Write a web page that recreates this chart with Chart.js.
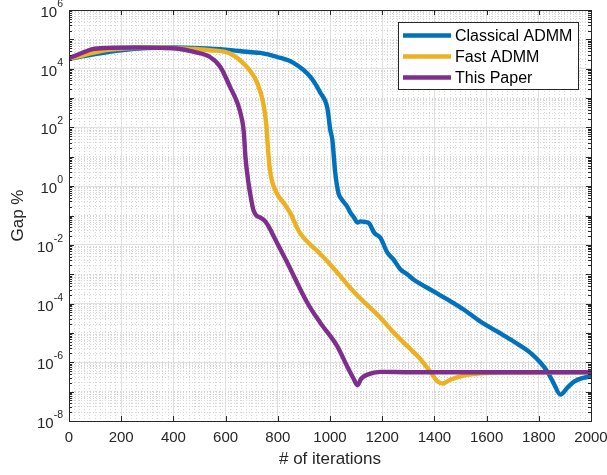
<!DOCTYPE html>
<html>
<head>
<meta charset="utf-8">
<script src="https://cdn.jsdelivr.net/npm/chart.js@4.4.1/dist/chart.umd.min.js"></script>
<style>
  html, body { margin: 0; padding: 0; background: #fff; }
  #gapChart { display: block; }
</style>
</head>
<body>
<canvas id="gapChart" width="607" height="475"></canvas>
<script>
// series names and colours (MATLAB default order)
const seriesNames = ['Classical ADMM', 'Fast ADMM', 'This Paper'];
const seriesColors = ['#0072BD', '#EDB120', '#7E2F8E'];

// Classical ADMM
const classicalIter = [0, 50, 100, 150, 200, 300, 400, 500, 600, 700, 733, 798, 860, 925, 963,
  990, 1001, 1009, 1020, 1032, 1045, 1066, 1078, 1090, 1105, 1117, 1135, 1150, 1169, 1193,
  1220, 1243, 1270, 1297, 1320, 1397, 1450, 1512, 1576, 1640, 1704, 1768, 1806, 1832, 1856,
  1883, 1910, 1935, 1974, 2000];
const classicalGap = [2.14e4, 2.63e4, 3.16e4, 3.72e4, 4.27e4, 5.01e4, 5.25e4, 5.0e4, 4.47e4, 3.63e4,
  3.47e4, 2.51e4, 1.58e4, 5.25e3, 1.51e3, 447, 83, 38, 2.9, 0.6,
  0.355, 0.2, 0.126, 0.091, 0.058, 0.063, 0.06, 0.054, 0.026, 0.0174,
  5.4e-3, 3.2e-3, 1.45e-3, 9.8e-4, 6.6e-4, 2.6e-4, 1.38e-4, 6.3e-5, 2.45e-5, 1.12e-5,
  5.1e-6, 2.1e-6, 9.8e-7, 4.9e-7, 2.0e-7, 7.9e-8, 1.38e-7, 2.2e-7, 3.0e-7, 3.3e-7];

// Fast ADMM
const fastIter = [0, 50, 100, 150, 220, 300, 400, 480, 540, 617, 682, 700, 721, 744, 756,
  763, 770, 780, 800, 825, 850, 870, 890, 950, 1000, 1092, 1193, 1243, 1297, 1347,
  1386, 1413, 1432, 1463, 1512, 1578, 1700, 2000];
const fastGap = [2.19e4, 2.82e4, 3.63e4, 4.37e4, 5.0e4, 5.25e4, 5.13e4, 4.68e4, 4.27e4, 3.31e4,
  1.15e4, 7.1e3, 3.3e3, 692, 126, 15.8, 3.5, 1.26, 0.5, 0.25,
  0.112, 0.045, 0.022, 6.3e-3, 2.2e-3, 2.5e-4, 3.3e-5, 1.05e-5, 3.5e-6, 1.26e-6,
  4.5e-7, 2.2e-7, 1.9e-7, 2.6e-7, 3.5e-7, 4.2e-7, 4.5e-7, 4.6e-7];

// This Paper
const paperIter = [0, 40, 90, 150, 250, 350, 420, 480, 540, 580, 617, 645, 663, 670, 676,
  687, 697, 706, 718, 733, 752, 770, 785, 836, 913, 963, 1028, 1066, 1090, 1105,
  1120, 1143, 1194, 1300, 2000];
const paperGap = [2.29e4, 3.16e4, 4.68e4, 5.13e4, 5.25e4, 5.13e4, 4.79e4, 3.72e4, 2.51e4, 1.15e4,
  2.4e3, 692, 182, 66, 10, 1.4, 0.4, 0.16, 0.1, 0.085,
  0.063, 0.035, 0.019, 2.5e-3, 1.07e-4, 2.2e-5, 3.5e-6, 7.2e-7, 2.8e-7, 1.66e-7,
  2.8e-7, 3.8e-7, 4.7e-7, 4.6e-7, 4.6e-7];

// axis ticks
const xTickLabels = [0, 200, 400, 600, 800, 1000, 1200, 1400, 1600, 1800, 2000];
const yTickExponents = [6, 4, 2, 0, -2, -4, -6, -8];

const INK = '#262626';
const MAJOR_GRID = '#e0e0e0';
const MINOR_GRID = '#d6d6d6';
const FONT = "'Liberation Sans', Arial, Helvetica, sans-serif";

Chart.defaults.font.family = FONT;
Chart.defaults.color = INK;

const toPoints = (xs, ys) => xs.map((x, i) => ({ x: x, y: ys[i] }));

// x grid every 20 iterations, labelled every 200
const xGridValues = [];
for (let v = 0; v <= 2000; v += 20) xGridValues.push(v);
const isMajorX = v => xTickLabels.includes(v);

// y grid at 1..9 x 10^n
const yGridValues = [];
for (let e = -8; e < 6; e++) {
  for (let k = 1; k <= 9; k++) yGridValues.push(Number((k + 'e' + e)));
}
yGridValues.push(1e6);
const isMajorY = v => yTickExponents.some(e => Math.abs(Math.log10(v) - e) < 1e-9);
const isDecade = v => Math.abs(Math.log10(v) - Math.round(Math.log10(v))) < 1e-9;

// box with inward ticks on all four sides
const axesBox = {
  id: 'axesBox',
  afterDraw(chart) {
    const { ctx, chartArea: a, scales } = chart;
    const xs = scales.x, ys = scales.y;
    ctx.save();
    ctx.strokeStyle = INK;
    ctx.lineWidth = 1;
    ctx.beginPath();
    xTickLabels.forEach(v => {
      const px = Math.round(xs.getPixelForValue(v)) + 0.5;
      ctx.moveTo(px, a.bottom); ctx.lineTo(px, a.bottom - 5);
      ctx.moveTo(px, a.top); ctx.lineTo(px, a.top + 5);
    });
    yGridValues.forEach(v => {
      const py = Math.round(ys.getPixelForValue(v)) + 0.5;
      const len = isDecade(v) ? 5 : 3;
      ctx.moveTo(a.left, py); ctx.lineTo(a.left + len, py);
      ctx.moveTo(a.right, py); ctx.lineTo(a.right - len, py);
    });
    ctx.stroke();
    ctx.strokeRect(Math.round(a.left) + 0.5, Math.round(a.top) + 0.5,
      Math.round(a.right - a.left), Math.round(a.bottom - a.top));

    // 10^n labels on the y axis
    ctx.fillStyle = INK;
    ctx.textAlign = 'right';
    ctx.textBaseline = 'alphabetic';
    yTickExponents.forEach(e => {
      const py = ys.getPixelForValue(Math.pow(10, e));
      const right = a.left - 6;
      ctx.font = '10.5px ' + FONT;
      const expText = String(e);
      ctx.fillText(expText, right, py - 3);
      const w = ctx.measureText(expText).width;
      ctx.font = '15px ' + FONT;
      ctx.fillText('10', right - w, py + 7);
    });
    ctx.restore();
  }
};

// legend box in the upper right corner of the axes
const cornerLegend = {
  id: 'cornerLegend',
  afterDraw(chart) {
    const { ctx } = chart;
    const box = { x: 398.5, y: 22.5, w: 180, h: 67 };
    ctx.save();
    ctx.fillStyle = '#fff';
    ctx.fillRect(box.x, box.y, box.w, box.h);
    ctx.strokeStyle = INK;
    ctx.lineWidth = 1;
    ctx.strokeRect(box.x, box.y, box.w, box.h);
    ctx.font = '16px ' + FONT;
    ctx.textAlign = 'left';
    ctx.textBaseline = 'middle';
    chart.data.datasets.forEach((ds, i) => {
      const y = 35.5 + i * 21;
      ctx.strokeStyle = ds.borderColor;
      ctx.lineWidth = ds.borderWidth;
      ctx.beginPath();
      ctx.moveTo(403, y);
      ctx.lineTo(451, y);
      ctx.stroke();
      ctx.fillStyle = '#000';
      ctx.fillText(ds.label, 455, y + 1);
    });
    ctx.restore();
  }
};

const lineSeries = [
  toPoints(classicalIter, classicalGap),
  toPoints(fastIter, fastGap),
  toPoints(paperIter, paperGap)
];

new Chart(document.getElementById('gapChart'), {
  type: 'line',
  data: {
    datasets: lineSeries.map((pts, i) => ({
      label: seriesNames[i],
      data: pts,
      borderColor: seriesColors[i],
      backgroundColor: seriesColors[i],
      borderWidth: 4.4,
      pointRadius: 0,
      cubicInterpolationMode: 'monotone',
      borderJoinStyle: 'round',
      borderCapStyle: 'round',
      order: 3 - i
    }))
  },
  options: {
    responsive: false,
    animation: false,
    devicePixelRatio: 1,
    layout: { padding: { top: 10, right: 16, left: 0, bottom: 0 } },
    plugins: { legend: { display: false }, tooltip: { enabled: false } },
    scales: {
      x: {
        type: 'linear',
        min: 0,
        max: 2000,
        afterBuildTicks: axis => { axis.ticks = xGridValues.map(v => ({ value: v })); },
        afterFit: axis => {
          axis.height = 54;
          axis.paddingLeft = 0;
          axis.paddingRight = 0;
        },
        ticks: {
          autoSkip: false,
          maxRotation: 0,
          padding: 8,
          font: { size: 15 },
          color: INK,
          callback: v => (isMajorX(v) ? String(v) : '')
        },
        grid: {
          drawTicks: false,
          lineWidth: 1,
          color: ctx => (ctx.tick && !isMajorX(ctx.tick.value) ? MINOR_GRID : MAJOR_GRID)
        },
        border: {
          display: false,
          dash: ctx => (ctx.tick && !isMajorX(ctx.tick.value) ? [1, 2] : [])
        },
        title: {
          display: true,
          text: '# of iterations',
          font: { size: 17 },
          color: INK,
          padding: { top: 0, bottom: 5 }
        }
      },
      y: {
        type: 'logarithmic',
        min: 1e-8,
        max: 1e6,
        afterBuildTicks: axis => { axis.ticks = yGridValues.map(v => ({ value: v })); },
        afterFit: axis => {
          axis.width = 69;
          axis.paddingTop = 0;
          axis.paddingBottom = 0;
        },
        ticks: { display: false },
        grid: {
          drawTicks: false,
          lineWidth: 1,
          color: ctx => (ctx.tick && !isMajorY(ctx.tick.value) ? MINOR_GRID : MAJOR_GRID)
        },
        border: {
          display: false,
          dash: ctx => (ctx.tick && !isMajorY(ctx.tick.value) ? [1, 2] : [])
        },
        title: {
          display: true,
          text: 'Gap %',
          font: { size: 17 },
          color: INK,
          padding: { top: 8, bottom: 0 }
        }
      }
    }
  },
  plugins: [axesBox, cornerLegend]
});
</script>
</body>
</html>
